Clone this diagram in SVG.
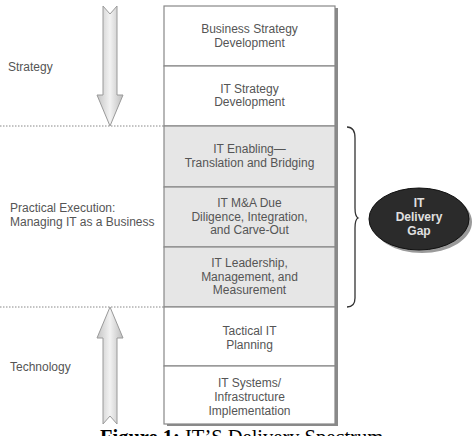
<svg xmlns="http://www.w3.org/2000/svg" width="475" height="436" viewBox="0 0 475 436">
<style>
  .lbl { font-family: "Liberation Sans", Arial, sans-serif; font-size: 12px; fill: #555; }
  .box { font-family: "Liberation Sans", Arial, sans-serif; font-size: 12px; fill: #555; text-anchor: middle; }
  .row { stroke: #888; stroke-width: 1.2; }
  .white { fill: #fff; }
  .shade { fill: #e6e6e6; }
  .dot { stroke: #888; stroke-width: 1; stroke-dasharray: 1.5 1.5; fill: none; }
  .arrow { fill: url(#ag); stroke: #9a9a9a; stroke-width: 1; }
  .gap { font-family: "Liberation Sans", Arial, sans-serif; font-size: 12px; font-weight: bold; fill: #e0e0e0; text-anchor: middle; }
  .cap { font-family: "Liberation Serif", "Times New Roman", serif; font-size: 20.5px; fill: #000; }
</style>
<defs>
  <linearGradient id="ag" x1="0" y1="0" x2="1" y2="0">
    <stop offset="0" stop-color="#c4c4c4"/>
    <stop offset="0.5" stop-color="#f2f2f2"/>
    <stop offset="1" stop-color="#bdbdbd"/>
  </linearGradient>
</defs>
<rect width="475" height="436" fill="#fff"/>

<!-- column shadow -->
<rect x="167" y="8" width="171" height="418" fill="#8a8a8a"/>

<g id="business-strategy">
  <rect class="row white" x="164" y="6" width="171" height="60"/>
  <text class="box" x="249.5" y="33">Business Strategy</text>
  <text class="box" x="249.5" y="47">Development</text>
</g>
<g id="it-strategy">
  <rect class="row white" x="164" y="66" width="171" height="60"/>
  <text class="box" x="249.5" y="93">IT Strategy</text>
  <text class="box" x="249.5" y="106">Development</text>
</g>
<g id="it-enabling">
  <rect class="row shade" x="164" y="126" width="171" height="61"/>
  <text class="box" x="249.5" y="153">IT Enabling—</text>
  <text class="box" x="249.5" y="167">Translation and Bridging</text>
</g>
<g id="it-ma">
  <rect class="row shade" x="164" y="187" width="171" height="60"/>
  <text class="box" x="249.5" y="207">IT M&amp;A Due</text>
  <text class="box" x="249.5" y="221">Diligence, Integration,</text>
  <text class="box" x="249.5" y="234">and Carve-Out</text>
</g>
<g id="it-leadership">
  <rect class="row shade" x="164" y="247" width="171" height="60"/>
  <text class="box" x="249.5" y="267">IT Leadership,</text>
  <text class="box" x="249.5" y="281">Management, and</text>
  <text class="box" x="249.5" y="294">Measurement</text>
</g>
<g id="tactical-it">
  <rect class="row white" x="164" y="307" width="171" height="59"/>
  <text class="box" x="249.5" y="335">Tactical IT</text>
  <text class="box" x="249.5" y="349">Planning</text>
</g>
<g id="it-systems">
  <rect class="row white" x="164" y="366" width="171" height="58"/>
  <text class="box" x="249.5" y="387">IT Systems/</text>
  <text class="box" x="249.5" y="401">Infrastructure</text>
  <text class="box" x="249.5" y="415">Implementation</text>
</g>

<g id="labels">
  <text class="lbl" x="8" y="71">Strategy</text>
  <text class="lbl" x="10" y="212">Practical Execution:</text>
  <text class="lbl" x="10" y="226">Managing IT as a Business</text>
  <text class="lbl" x="10" y="371">Technology</text>
</g>

<g id="connectors">
  <line class="dot" x1="0" y1="126" x2="164" y2="126"/>
  <line class="dot" x1="0" y1="307" x2="164" y2="307"/>
  <path class="arrow" d="M103,6 L110,14 L117,6 L117,95 L123,95 L110,126 L97,95 L103,95 Z"/>
  <path class="arrow" d="M110,307 L123,338 L117,338 L117,424 L110,416 L103,424 L103,338 L97,338 Z"/>
  <path d="M347,127 C353,127 355,131 355,138 L355,208 C355,214 356,217 358,218 C356,219 355,222 355,228 L355,298 C355,304 353,307 347,307" fill="none" stroke="#333" stroke-width="1.3"/>
</g>

<g id="it-delivery-gap">
  <ellipse cx="422" cy="222" rx="50" ry="31" fill="#9a9a9a"/>
  <ellipse cx="419" cy="219" rx="50" ry="31" fill="#2b2b2b" stroke="#111" stroke-width="1"/>
  <text class="gap" x="419" y="207">IT</text>
  <text class="gap" x="419" y="221">Delivery</text>
  <text class="gap" x="419" y="235">Gap</text>
</g>

<g id="caption">
  <text class="cap" x="100" y="444"><tspan font-weight="bold">Figure 1:</tspan> IT’S Delivery Spectrum</text>
</g>
</svg>
